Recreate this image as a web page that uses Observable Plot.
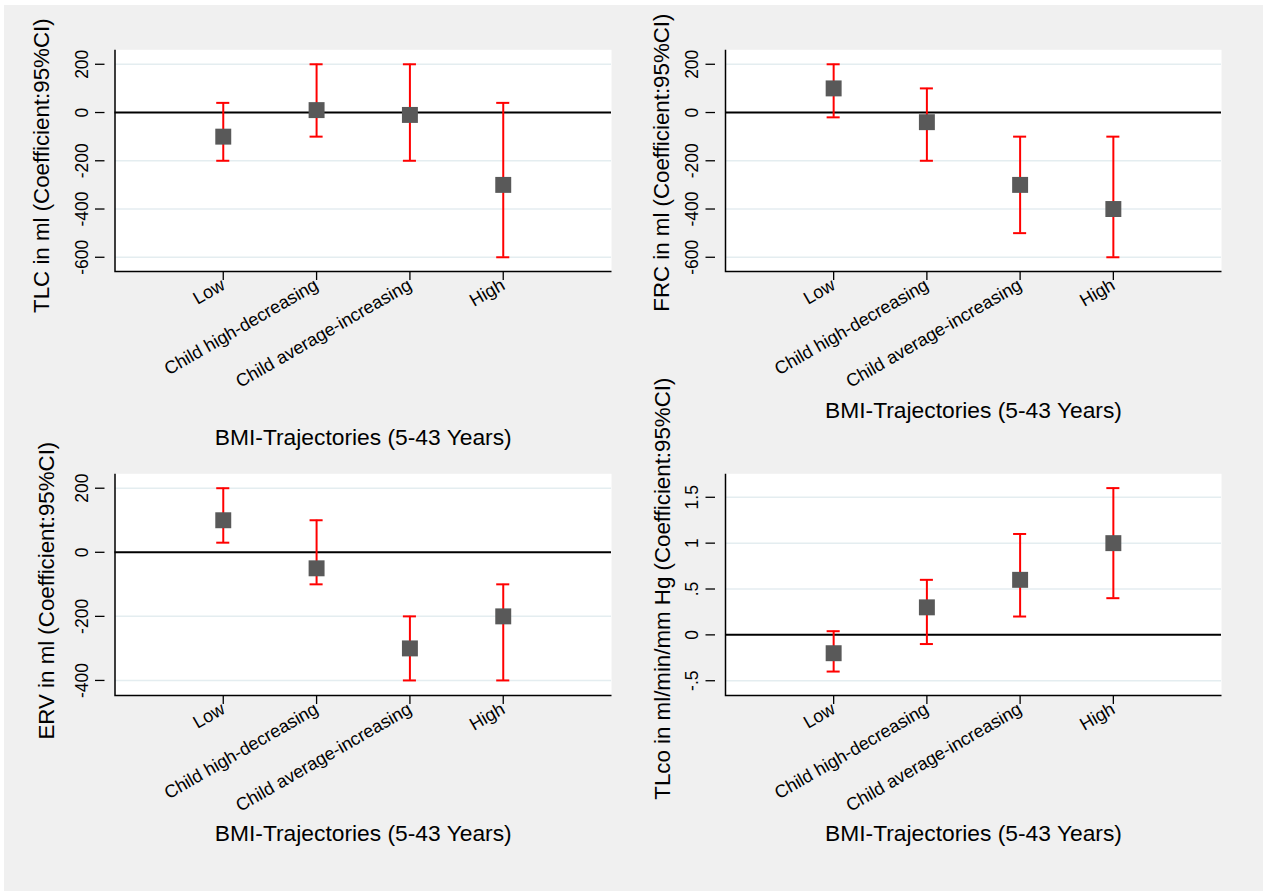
<!DOCTYPE html>
<html><head><meta charset="utf-8">
<script src="https://cdn.jsdelivr.net/npm/d3@7"></script>
<script src="https://cdn.jsdelivr.net/npm/@observablehq/plot@0.6"></script>
<style>
html,body{margin:0;padding:0;background:#fff;}
#root{position:relative;width:1263px;height:891px;background:#fff;overflow:hidden;}
#bg{position:absolute;left:4px;top:5px;right:0;bottom:0;background:#f0f0f0;}
.panel{position:absolute;}
</style></head><body><div id="root"><div id="bg"></div></div>
<script>
// ---- data ----
const categories = ["Low", "Child high-decreasing", "Child average-increasing", "High"];
const xTitle = "BMI-Trajectories (5-43 Years)";

const tlcCoef = [-100, 10, -10, -300];
const tlcLo   = [-200, -100, -200, -600];
const tlcHi   = [40, 200, 200, 40];

const frcCoef = [100, -40, -300, -400];
const frcLo   = [-20, -200, -500, -600];
const frcHi   = [200, 100, -100, -100];

const ervCoef = [100, -50, -300, -200];
const ervLo   = [30, -100, -400, -400];
const ervHi   = [200, 100, -200, -100];

const tlcoCoef = [-0.2, 0.3, 0.6, 1.0];
const tlcoLo   = [-0.4, -0.1, 0.2, 0.4];
const tlcoHi   = [0.04, 0.6, 1.1, 1.6];

const mlTicks = [200, 0, -200, -400, -600];
const mlTickLabels = ["200", "0", "-200", "-400", "-600"];
const ervTicks = [200, 0, -200, -400];
const ervTickLabels = ["200", "0", "-200", "-400"];
const tlcoTicks = [1.5, 1, 0.5, 0, -0.5];
const tlcoTickLabels = ["1.5", "1", ".5", "0", "-.5"];

// ---- style ----
const FONT = "'Liberation Sans', Arial, Helvetica, sans-serif";
const RED = "#ff0000";
const SQ = "#595959";
const GRID = "#e4edf0";

function panel(cfg) {
  const {coef, lo, hi, ticks, tickLabels, domain, yTitle, L} = cfg;
  const rows = categories.map((c, i) => ({cat: c, coef: coef[i], lo: lo[i], hi: hi[i]}));
  const fmt = d => tickLabels[ticks.indexOf(d)];
  const fw = L.w - L.ml - L.mr, fh = L.h - L.mt - L.mb;
  const chart = Plot.plot({
    width: L.w, height: L.h,
    marginLeft: L.ml, marginRight: L.mr, marginTop: L.mt, marginBottom: L.mb,
    style: {background: "transparent", overflow: "visible", fontFamily: FONT, color: "#000"},
    x: {type: "band", domain: categories, paddingInner: 0.86, paddingOuter: 1.09, round: false},
    y: {domain: domain},
    marks: [
      Plot.frame({fill: "white", stroke: "none"}),
      Plot.gridY(ticks.filter(t => t !== 0), {stroke: GRID, strokeOpacity: 1, strokeWidth: 1.5}),
      Plot.ruleY([0], {stroke: "#000", strokeWidth: 2}),
      Plot.ruleX(rows, {x: "cat", y1: "lo", y2: "hi", stroke: RED, strokeWidth: 2}),
      Plot.tickY(rows, {x: "cat", y: "lo", stroke: RED, strokeWidth: 2}),
      Plot.tickY(rows, {x: "cat", y: "hi", stroke: RED, strokeWidth: 2}),
      Plot.dot(rows, {x: "cat", y: "coef", symbol: "square", r: 9, fill: SQ, stroke: "none"}),
      // left + bottom axis lines (frame edges only)
      Plot.frame({fill: "none", stroke: "#000", strokeWidth: 1.5, strokeDasharray: `0 ${fw + fh} ${fw + fh}`}),
      Plot.axisY({ticks: ticks, tickFormat: fmt, tickRotate: -90, tickSize: 9.5, tickPadding: 8, dx: -10, fontSize: 17.5, label: null, strokeWidth: 1.3}),
      Plot.axisX({tickRotate: -30, tickSize: 9, tickPadding: 3, fontSize: 18, label: null, strokeWidth: 1.3}),
      Plot.text([yTitle], {frameAnchor: "left", rotate: -90, dx: L.ytx, dy: L.yty, fontSize: 22.3, textAnchor: "middle", lineAnchor: "middle", fill: "#000"}),
      Plot.text([xTitle], {frameAnchor: "bottom", dy: L.xty, fontSize: 22.8, textAnchor: "middle", lineAnchor: "middle", fill: "#000"})
    ]
  });
  chart.classList.add("panel");
  chart.style.left = L.left + "px";
  chart.style.top = L.top + "px";
  document.getElementById("root").appendChild(chart);
}

panel({coef: tlcCoef, lo: tlcLo, hi: tlcHi, ticks: mlTicks, tickLabels: mlTickLabels, domain: [-659, 260],
  yTitle: "TLC in ml (Coefficient:95%CI)",
  L: {left: 0, top: 0, w: 630, h: 450, ml: 114.5, mr: 19, mt: 49.3, mb: 179, ytx: -73, yty: 5, xty: 166}});
panel({coef: frcCoef, lo: frcLo, hi: frcHi, ticks: mlTicks, tickLabels: mlTickLabels, domain: [-659, 260],
  yTitle: "FRC in ml (Coefficient:95%CI)",
  L: {left: 630, top: 0, w: 633, h: 450, ml: 95, mr: 42, mt: 49.3, mb: 179, ytx: -64, yty: 2, xty: 139}});
panel({coef: ervCoef, lo: ervLo, hi: ervHi, ticks: ervTicks, tickLabels: ervTickLabels, domain: [-447, 245],
  yTitle: "ERV in ml (Coefficient:95%CI)",
  L: {left: 0, top: 450, w: 630, h: 441, ml: 114.5, mr: 19, mt: 23.3, mb: 196, ytx: -68, yty: 6, xty: 138}});
panel({coef: tlcoCoef, lo: tlcoLo, hi: tlcoHi, ticks: tlcoTicks, tickLabels: tlcoTickLabels, domain: [-0.661, 1.756],
  yTitle: "TLco in ml/min/mm Hg (Coefficient:95%CI)",
  L: {left: 630, top: 450, w: 633, h: 441, ml: 95, mr: 42, mt: 23.3, mb: 196, ytx: -63, yty: 4, xty: 138}});
</script>
</body></html>
